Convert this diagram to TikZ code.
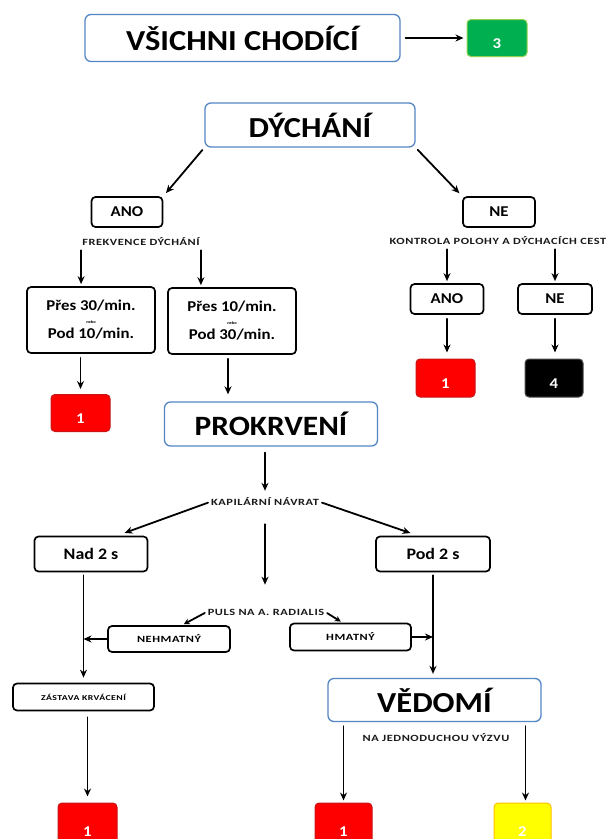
\documentclass[tikz,border=0pt]{standalone}
\usepackage{fontspec}
\setmainfont{Carlito}[FakeStretch=1.12]
\newfontfamily\malyfont{Carlito}[FakeStretch=1.3,LetterSpace=6]
\usetikzlibrary{arrows.meta,positioning,calc}

\definecolor{modra}{RGB}{84,134,196}
\definecolor{zelena}{RGB}{0,176,80}
\definecolor{svzelena}{RGB}{146,208,80}
\definecolor{cervena}{RGB}{255,0,0}
\definecolor{tmcervena}{RGB}{200,20,20}
\definecolor{zluta}{RGB}{255,255,0}
\definecolor{oranzova}{RGB}{255,192,0}

\tikzset{
  modrybox/.style={draw=modra,line width=1.3pt,rounded corners=6pt,fill=white,inner sep=0pt,
    font=\bfseries\fontsize{29}{30}\selectfont},
  cernybox/.style={draw=black,line width=1.7pt,rounded corners=4pt,inner sep=0pt,
    font=\bfseries\fontsize{15}{16}\selectfont},
  stitek/.style={rounded corners=4pt,line width=1pt,inner sep=0pt,minimum width=58pt,
    minimum height=37pt,text height=20pt,text depth=0pt,text=white,
    font=\bfseries\fontsize{15}{16}\selectfont},
  popis/.style={inner sep=1pt,text=black!90,font=\malyfont\bfseries\fontsize{9.5}{10}\selectfont},
  sipka/.style={-{Stealth[length=8pt,width=7pt]},line width=1.8pt},
}

\begin{document}
\begin{tikzpicture}[x=1pt,y=-1pt,line cap=round,line join=round]
\useasboundingbox (0,0) rectangle (609,839);

% horni cast
\node[modrybox,minimum width=315pt,minimum height=47pt] (vsichni) at (242.5,38) {VŠICHNI CHODÍCÍ};
\node[stitek,fill=zelena,draw=svzelena,minimum width=60pt] (tri) at (497,38) {3};
\draw[sipka,shorten <=5pt,shorten >=3pt] (vsichni.east) -- (vsichni.east -| tri.west);

% dychani
\node[modrybox,minimum width=210pt,minimum height=44pt] (dychani) at (310,125) {DÝCHÁNÍ};
\node[cernybox,minimum width=71pt,minimum height=30pt] (ano) at (127,212) {ANO};
\node[cernybox,minimum width=72pt,minimum height=30pt] (ne) at (499,212) {NE};
\draw[sipka,shorten <=3pt,shorten >=4pt] (dychani.south west) -- (ano.north east);
\draw[sipka,shorten <=3pt,shorten >=4pt] (dychani.south east) -- (ne.north west);

\node[popis] (frekvence) at (141,242) {FREKVENCE DÝCHÁNÍ};
\node[cernybox,minimum width=128pt,minimum height=66pt,align=center] (pres30) at (91,320)
  {Přes 30/min.\\[-3pt]{\fontsize{4}{4}\selectfont nebo}\\[-1pt]Pod 10/min.};
\node[cernybox,minimum width=128pt,minimum height=66pt,align=center] (pres10) at (232,321)
  {Přes 10/min.\\[-3pt]{\fontsize{4}{4}\selectfont nebo}\\[-1pt]Pod 30/min.};
\draw[sipka,shorten <=3pt,shorten >=2pt] (frekvence.south west) -- (frekvence.south west |- pres30.north);
\draw[sipka,shorten <=3pt,shorten >=2pt] (frekvence.south east) -- (frekvence.south east |- pres10.north);
\node[stitek,fill=cervena,draw=tmcervena,minimum width=59pt] (cerv1a) at (80.5,413) {1};
\draw[sipka,shorten <=4pt,shorten >=5pt] (cerv1a.north |- pres30.south) -- (cerv1a.north);

\node[popis] (kontrola) at (498,241) {KONTROLA POLOHY A DÝCHACÍCH CEST};
\node[cernybox,minimum width=73pt,minimum height=30pt] (ano2) at (447,299) {ANO};
\node[cernybox,minimum width=74pt,minimum height=30pt] (ne2) at (555,299) {NE};
\draw[sipka,shorten <=3pt,shorten >=2pt] (ano2.north |- kontrola.south) -- (ano2.north);
\draw[sipka,shorten <=3pt,shorten >=2pt] (ne2.north |- kontrola.south) -- (ne2.north);
\node[stitek,fill=cervena,draw=tmcervena,minimum width=59pt,minimum height=38pt] (cerv1b) at (445.5,378) {1};
\node[stitek,fill=black,draw=black!70,minimum height=38pt] (cerna4) at (554,378) {4};
\draw[sipka,shorten <=4pt,shorten >=6pt] (ano2.south) -- (ano2.south |- cerv1b.north);
\draw[sipka,shorten <=4pt,shorten >=6pt] (ne2.south) -- (ne2.south |- cerna4.north);

% prokrveni
\node[modrybox,minimum width=213pt,minimum height=44pt,font=\bfseries\fontsize{28}{30}\selectfont] (prokrveni) at (271,424) {PROKRVENÍ};
\draw[sipka,shorten <=4pt,shorten >=7pt] ([xshift=-4pt]pres10.south) -- ([xshift=-4pt]pres10.south |- prokrveni.north);
\node[popis] (kapilarni) at (265,502) {KAPILÁRNÍ NÁVRAT};
\draw[sipka,shorten <=6pt,shorten >=6pt] (prokrveni.south -| kapilarni.north) -- (kapilarni.north);
\node[cernybox,minimum width=113pt,minimum height=35pt,font=\bfseries\fontsize{16}{17}\selectfont] (nad) at (91,554) {Nad 2 s};
\node[cernybox,minimum width=114pt,minimum height=35pt,font=\bfseries\fontsize{16}{17}\selectfont] (pod) at (433,554) {Pod 2 s};
\draw[sipka,shorten <=2pt,shorten >=8pt] (kapilarni.west) -- ([xshift=26pt]nad.north);
\draw[sipka,shorten <=2pt,shorten >=8pt] (kapilarni.east) -- ([xshift=-15pt]pod.north);

\node[popis] (puls) at (266,612) {PULS NA A. RADIALIS};
\draw[sipka,shorten <=17pt,shorten >=23pt] (kapilarni.south) -- (kapilarni.south |- puls.north);
\node[cernybox,minimum width=122pt,minimum height=26pt,font=\malyfont\bfseries\fontsize{9.5}{10}\selectfont] (nehmatny) at (169,639) {NEHMATNÝ};
\node[cernybox,minimum width=121pt,minimum height=27pt,font=\malyfont\bfseries\fontsize{9.5}{10}\selectfont] (hmatny) at (350.5,637) {HMATNÝ};
\draw[sipka,-{Stealth[length=6pt,width=6pt]},shorten <=2pt,shorten >=2pt] (puls.west) -- ([xshift=13pt]nehmatny.north);
\draw[sipka,-{Stealth[length=6pt,width=6pt]},shorten <=2pt,shorten >=2pt] (puls.east) -- ([xshift=-8pt]hmatny.north);

% levy sloupec
\node[cernybox,minimum width=141pt,minimum height=27pt,font=\malyfont\bfseries\fontsize{7.5}{8}\selectfont] (zastava) at (83.5,697) {ZÁSTAVA KRVÁCENÍ};
\draw[sipka,shorten <=3pt,shorten >=5pt] (zastava.north |- nad.south) -- (zastava.north);
\draw[sipka] (nehmatny.west) -- (nehmatny.west -| zastava.north);
\node[stitek,fill=cervena,draw=tmcervena,minimum width=59pt,minimum height=44pt,text height=22pt] (cerv1c) at (87.5,825) {1};
\draw[sipka,shorten <=6pt,shorten >=6pt] (zastava.south -| cerv1c.north) -- (cerv1c.north);

% pravy sloupec
\node[modrybox,minimum width=213pt,minimum height=43pt] (vedomi) at (434.5,700) {VĚDOMÍ};
\draw[sipka,shorten <=3pt,shorten >=4pt] (pod.south) -- (pod.south |- vedomi.north);
\draw[sipka] (hmatny.east) -- (hmatny.east -| pod.south);
\node[popis] (vyzva) at (436,738) {NA JEDNODUCHOU VÝZVU};
\node[stitek,fill=cervena,draw=tmcervena,minimum width=57pt,minimum height=44pt,text height=22pt] (cerv1d) at (343.5,825) {1};
\node[stitek,fill=zluta,draw=oranzova,minimum width=57pt,minimum height=44pt,text height=22pt] (zluta2) at (522.5,825) {2};
\draw[sipka,shorten <=4pt,shorten >=2pt] (cerv1d.north |- vedomi.south) -- (cerv1d.north);
\draw[sipka,shorten <=4pt,shorten >=2pt] ([xshift=3pt]zluta2.north |- vedomi.south) -- ([xshift=3pt]zluta2.north);
\end{tikzpicture}
\end{document}
